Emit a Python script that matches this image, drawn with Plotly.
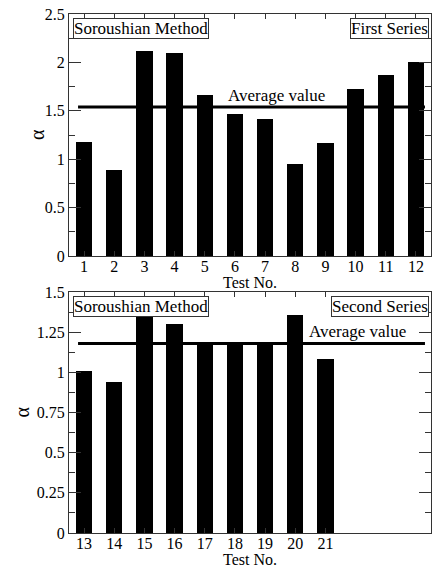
import plotly.graph_objects as go
from plotly.subplots import make_subplots

# First series (tests 1-12)
tests_1 = [1, 2, 3, 4, 5, 6, 7, 8, 9, 10, 11, 12]
alpha_1 = [1.18, 0.89, 2.12, 2.10, 1.66, 1.47, 1.42, 0.95, 1.17, 1.73, 1.87, 2.00]
avg_1 = 1.54

# Second series (tests 13-21)
tests_2 = [13, 14, 15, 16, 17, 18, 19, 20, 21]
alpha_2 = [1.01, 0.94, 1.37, 1.30, 1.19, 1.18, 1.18, 1.36, 1.08]
avg_2 = 1.18

FONT = "Liberation Serif"

fig = make_subplots(rows=2, cols=1, vertical_spacing=0.07)

fig.add_trace(go.Bar(x=tests_1, y=alpha_1, width=0.54,
                     marker=dict(color="black", line=dict(width=0)),
                     showlegend=False), row=1, col=1)
fig.add_trace(go.Scatter(x=[0.8, 12.3], y=[avg_1, avg_1], mode="lines",
                         line=dict(color="black", width=3),
                         showlegend=False), row=1, col=1)

fig.add_trace(go.Bar(x=tests_2, y=alpha_2, width=0.54,
                     marker=dict(color="black", line=dict(width=0)),
                     showlegend=False), row=2, col=1)
fig.add_trace(go.Scatter(x=[12.8, 24.3], y=[avg_2, avg_2], mode="lines",
                         line=dict(color="black", width=3),
                         showlegend=False), row=2, col=1)

axis_common = dict(
    showgrid=False, zeroline=False, showline=True, linecolor="#333",
    linewidth=1, mirror="ticks", ticks="inside", tickcolor="#333",
    tickfont=dict(family=FONT, size=16, color="black"),
)

fig.update_xaxes(**axis_common, ticklen=5, ticklabelstandoff=-4)
fig.update_xaxes(range=[0.5, 12.5], tickvals=tests_1, row=1, col=1)
fig.update_xaxes(range=[12.5, 24.5], tickvals=tests_2, row=2, col=1)

fig.update_yaxes(**axis_common, ticklen=12)
fig.update_yaxes(range=[0, 2.5], dtick=0.5, tick0=0,
                 minor=dict(dtick=0.25, ticklen=6, ticks="inside", tickcolor="#333"),
                 row=1, col=1)
fig.update_yaxes(range=[0, 1.5], dtick=0.25, tick0=0,
                 minor=dict(dtick=0.125, ticklen=6, ticks="inside", tickcolor="#333"),
                 row=2, col=1)

txt = dict(family=FONT, size=16, color="black")
lbl = dict(family=FONT, size=17, color="black")
box = dict(showarrow=False, bordercolor="#333", borderwidth=1, borderpad=0,
           bgcolor="white", font=lbl)

for xd, yd, series in [("x domain", "y domain", "First Series"),
                       ("x2 domain", "y2 domain", "Second Series")]:
    fig.add_annotation(text="Soroushian Method", xref=xd, yref=yd,
                       x=0.011, y=0.985, xanchor="left", yanchor="top", **box)
    fig.add_annotation(text=series, xref=xd, yref=yd,
                       x=0.995, y=0.985, xanchor="right", yanchor="top", **box)
    # axis titles
    fig.add_annotation(text="Test No.", xref=xd, yref=yd, x=0.5, y=0,
                       xanchor="center", yanchor="top", yshift=-16,
                       showarrow=False, font=txt)
    fig.add_annotation(text="α", xref="paper", yref=yd, x=0, y=0.5,
                       xanchor="center", yanchor="middle",
                       xshift=-32 if series == "First Series" else -47,
                       textangle=-90, showarrow=False,
                       font=dict(family=FONT, size=20, color="black"))

fig.add_annotation(text="Average value", xref="x", yref="y", x=7.39, y=avg_1,
                   xanchor="center", yanchor="bottom", yshift=0, showarrow=False,
                   font=lbl)
fig.add_annotation(text="Average value", xref="x2", yref="y2", x=22.06, y=avg_2,
                   xanchor="center", yanchor="bottom", yshift=0, showarrow=False,
                   font=lbl)

fig.update_layout(
    width=432, height=567,
    margin=dict(l=69, r=1, t=14, b=34),
    plot_bgcolor="white", paper_bgcolor="white",
    bargap=0,
    font=dict(family=FONT, color="black"),
)
fig.update_layout(yaxis=dict(domain=[0.5337, 1.0]), yaxis2=dict(domain=[0.0, 0.4644]))

fig.write_html("out.html")
